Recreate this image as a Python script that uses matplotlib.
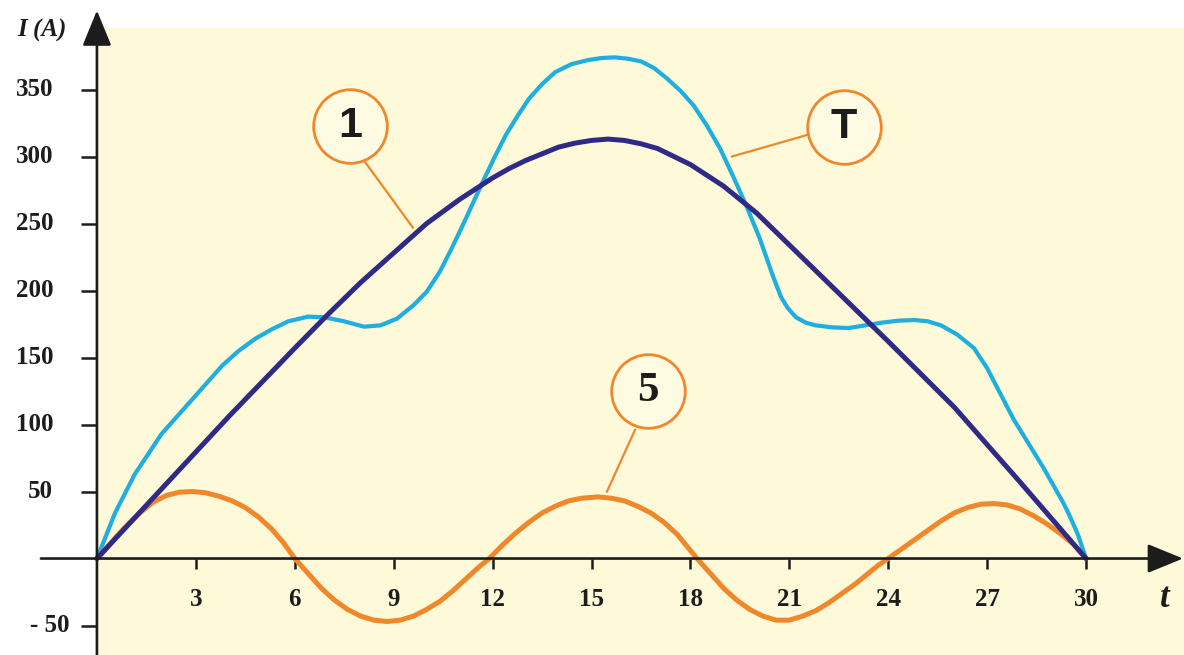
import matplotlib.pyplot as plt
from matplotlib.patches import Rectangle

# ── data ───────────────────────────────────────────────────────────────────
# fundamental (1)
T_FUND = [0, 2, 4, 6, 7, 8, 9, 9.5, 10, 10.5, 11, 11.5, 12, 12.5, 13, 13.5,
          14, 14.5, 15, 15.5, 16, 16.5, 17, 17.5, 18, 18.5, 19, 19.5, 20, 22,
          24, 26, 28, 30]
I_FUND = [0, 53, 106, 157, 182, 206, 228, 239, 250, 259, 268, 276, 284, 291,
          297, 302, 307, 310, 312, 313, 312, 309.5, 306, 300, 294, 286, 278,
          268, 258, 210, 162, 113, 57, 0]

# total current (T)
T_TOTAL = [0, 0.55, 1.15, 1.96, 2.9, 3.8, 4.3, 4.8, 5.3, 5.8, 6.4,
           6.9, 7.5, 8.1, 8.6, 9.1, 9.6, 10.0, 10.4, 10.75, 11.1, 11.4, 11.7,
           12.05, 12.4, 12.75, 13.1, 13.5, 13.9, 14.4, 14.9, 15.3, 15.7, 16.1,
           16.5, 16.9, 17.3, 17.7, 18.1, 18.5, 18.9, 19.3, 19.7, 20.1, 20.5,
           20.75, 20.95, 21.2, 21.5, 21.8, 22.3, 22.8, 23.3, 23.8, 24.3, 24.8,
           25.2, 25.6, 26.1, 26.6, 27.0, 27.4, 27.8, 28.1, 28.4, 28.7, 29.0,
           29.3, 29.5, 29.75, 30.0]
I_TOTAL = [0, 34, 63, 93, 119, 144, 155, 164, 171, 177, 180.5,
           180, 177, 173, 174, 179, 189, 199, 214, 231, 249, 265, 281, 299,
           316, 330, 343, 354, 363, 369, 372, 373.5, 374, 373, 371, 366, 358,
           349, 338, 323, 306, 285, 263, 239, 211, 195, 187, 180, 176, 174,
           172.5, 172, 174, 176, 177.5, 178, 177, 174, 167, 157, 142, 123, 104,
           92, 80, 68, 55, 42, 32, 18, 0]

# 5th harmonic (5)
T_H5 = [0, 0.8, 1.3, 1.7, 2.1, 2.5, 2.9, 3.3, 3.7, 4.1, 4.5, 4.9, 5.3, 5.65,
        6.0, 6.4, 6.8, 7.2, 7.6, 8.0, 8.4, 8.8, 9.2, 9.6, 10.0, 10.4, 10.8,
        11.2, 11.6, 11.9, 12.3, 12.7, 13.1, 13.5, 13.9, 14.3, 14.7, 15.2, 15.6,
        16.0, 16.4, 16.8, 17.2, 17.6, 17.9, 18.2, 18.6, 19.0, 19.4, 19.8, 20.2,
        20.6, 21.0, 21.4, 21.8, 22.2, 22.6, 23.0, 23.4, 23.7, 24.0, 24.4, 24.8,
        25.2, 25.6, 26.0, 26.4, 26.8, 27.2, 27.6, 28.0, 28.4, 28.8, 29.2, 29.6,
        30.0]
I_H5 = [0, 22, 34, 42, 47, 49.5, 50, 49, 46.5, 43, 38, 31, 22, 12, 0, -11,
        -22, -31, -38, -43, -46, -47, -46, -43, -38, -32, -24, -15, -6, 0, 10,
        19, 27, 34, 39, 43, 45, 46, 45, 43, 39, 34, 27, 18, 9, 0, -11, -22,
        -31, -38, -43, -46, -46, -43, -39, -33, -26, -19, -11, -5, 0, 7, 14,
        21, 28, 34, 38, 40.5, 41, 40, 37, 32, 26, 19, 11, 0]

X_TICKS = [3, 6, 9, 12, 15, 18, 21, 24, 27, 30]
Y_TICKS = [350, 300, 250, 200, 150, 100, 50, -50]
Y_TICK_LABELS = ["350", "300", "250", "200", "150", "100", "50", "- 50"]

# ── styles ─────────────────────────────────────────────────────────────────
BG = "#fdf9d9"
NAVY = "#2f2a86"
CYAN = "#1eaee0"
ORANGE = "#f0872a"
INK = "#1c1c1c"
SERIF = "Liberation Serif"

fig = plt.figure(figsize=(11.84, 6.55), dpi=100)
ax = fig.add_axes([0, 0, 1, 1])
ax.set_xlim(-2.94, 32.97)
ax.set_ylim(-72.0, 416.8)

# yellow panel
ax.add_patch(Rectangle((0, -72.0), 33.5, 468.0, facecolor=BG,
                       edgecolor="none", zorder=0))

# curves
ax.plot(T_TOTAL, I_TOTAL, color=CYAN, lw=3.0, solid_capstyle="round",
        solid_joinstyle="round", zorder=3)
ax.plot(T_H5, I_H5, color=ORANGE, lw=3.6, solid_capstyle="round",
        solid_joinstyle="round", zorder=4)
ax.plot(T_FUND, I_FUND, color=NAVY, lw=3.6, solid_capstyle="round",
        solid_joinstyle="round", zorder=5)

# axes with arrows
arrow = dict(arrowstyle="-|>,head_length=1.1,head_width=0.45", lw=1.9,
             color=INK, mutation_scale=20, shrinkA=0, shrinkB=0)
ax.annotate("", xy=(0, 409), xytext=(0, -72), arrowprops=arrow, zorder=6)
ax.annotate("", xy=(32.94, 0), xytext=(-1.7, 0), arrowprops=arrow, zorder=6)

for s in ax.spines.values():
    s.set_visible(False)
ax.spines["left"].set_position(("data", 0))
ax.spines["bottom"].set_position(("data", 0))

ax.set_yticks(Y_TICKS)
ax.tick_params(axis="y", direction="out", length=11.5, width=1.8,
               color=INK, labelleft=False)
ax.set_xticks(X_TICKS, [str(v) for v in X_TICKS])
ax.tick_params(axis="x", direction="out", length=7, width=1.8, color=INK,
               pad=14, labelsize=18, labelcolor=INK)
for lab in ax.get_xticklabels():
    lab.set_fontfamily(SERIF)
    lab.set_fontweight("bold")

ytrans = ax.get_yaxis_transform()
for val, lab in zip(Y_TICKS, Y_TICK_LABELS):
    ax.text(0.059 if val < 0 else 0.045, val, lab, transform=ytrans,
            ha="right", va="center", fontsize=18, fontweight="bold",
            family=SERIF, color=INK)

ax.text(0.035, 0.954, "I (A)", transform=ax.transAxes, ha="center",
        va="center", fontsize=18, fontweight="bold", fontstyle="italic",
        family=SERIF, color=INK)
ax.text(0.984, 0.087, "t", transform=ax.transAxes, ha="center", va="center",
        fontsize=25, fontweight="bold", fontstyle="italic", family=SERIF,
        color=INK)

# circled labels with leader lines
labels = [
    ("1", (7.67, 323), (8.13, 296), (9.58, 247), "Liberation Sans"),
    ("T", (22.66, 322), (21.53, 316), (19.26, 300), "Liberation Sans"),
    ("5", (16.71, 125), (16.32, 96), (15.47, 50), SERIF),
]
for txt, (cx, cy), p0, p1, fam in labels:
    ax.plot([p0[0], p1[0]], [p0[1], p1[1]], color=ORANGE, lw=1.6, zorder=6)
    ax.plot([cx], [cy], marker="o", ms=53, mfc="#fefbe2", mec=ORANGE,
            mew=2.0, zorder=7)
    ax.text(cx, cy, txt, ha="center", va="center", fontsize=31,
            fontweight="bold", family=fam, color=INK, zorder=8)

fig.savefig("out.png", dpi=100, facecolor="white")
